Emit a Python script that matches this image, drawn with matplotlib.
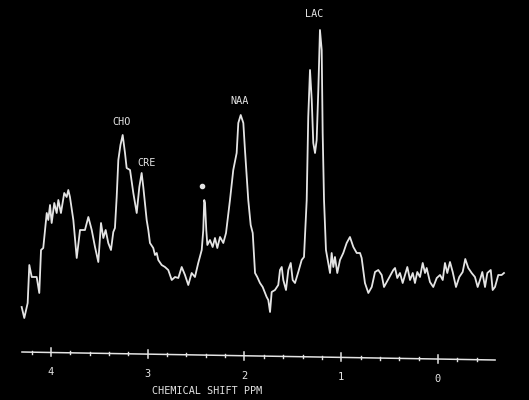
import numpy as np
import matplotlib
matplotlib.use("Agg")
import matplotlib.pyplot as plt

# Spectrum: chemical shift (ppm) and relative intensity
ppm = [4.303, 4.276, 4.241, 4.224, 4.199, 4.148, 4.121, 4.103, 4.080, 4.044,
       4.028, 4.010, 3.993, 3.966, 3.941, 3.924, 3.897, 3.863, 3.838, 3.821,
       3.804, 3.769, 3.734, 3.700, 3.649, 3.614, 3.579, 3.545, 3.511, 3.483,
       3.459, 3.435, 3.408, 3.380, 3.356, 3.339, 3.321, 3.304, 3.282, 3.259,
       3.235, 3.218, 3.183, 3.149, 3.114, 3.087, 3.063, 3.046, 3.011,
       2.994, 2.977, 2.943, 2.925, 2.907, 2.891, 2.856, 2.822, 2.788, 2.752,
       2.718, 2.684, 2.649, 2.615, 2.581, 2.546, 2.512, 2.478, 2.442, 2.426,
       2.416, 2.408, 2.395, 2.384, 2.357, 2.329, 2.305, 2.281, 2.253, 2.219,
       2.191, 2.150, 2.116, 2.081, 2.064, 2.039, 2.012, 1.995, 1.961, 1.936,
       1.915, 1.891, 1.868, 1.840, 1.812, 1.788, 1.771, 1.754, 1.736, 1.719,
       1.685, 1.651, 1.633, 1.615, 1.599, 1.571, 1.547, 1.522, 1.502, 1.478,
       1.444, 1.409, 1.385, 1.357, 1.341, 1.323, 1.305, 1.289, 1.271, 1.254,
       1.237, 1.220, 1.202, 1.192, 1.178, 1.158, 1.134, 1.116, 1.099, 1.082,
       1.065, 1.041, 1.013, 0.979, 0.944, 0.910, 0.875, 0.840,
       0.806, 0.789, 0.755, 0.720, 0.685, 0.651, 0.617, 0.582, 0.558, 0.530,
       0.503, 0.462, 0.444, 0.421, 0.393, 0.365, 0.341, 0.317, 0.289, 0.261,
       0.238, 0.214, 0.186, 0.158, 0.134, 0.117, 0.083, 0.049, 0.013, -0.021,
       -0.049, -0.072, -0.096, -0.124, -0.152, -0.186, -0.220, -0.255, -0.282, -0.313,
       -0.348, -0.382, -0.410, -0.434, -0.458, -0.486, -0.510, -0.545, -0.565, -0.589,
       -0.623, -0.658, -0.682]
intensity = [33, 22, 37, 75, 63, 63, 47, 90, 92, 127,
             120, 135, 117, 137, 127, 140, 127, 147, 143, 150,
             143, 120, 82, 110, 110, 123, 110, 93, 78, 117,
             102, 110, 97, 90, 108, 112, 143, 180, 195, 205,
             187, 172, 170, 147, 127, 153, 167, 153, 120,
             110, 97, 92, 85, 87, 80, 75, 73, 70, 60,
             63, 62, 73, 65, 55, 67, 63, 77, 90, 110,
             140, 137, 110, 95, 100, 93, 102, 92, 103, 97,
             107, 140, 170, 187, 217, 225, 217, 190, 140, 115,
             107, 67, 63, 57, 53, 47, 43, 40, 28, 48,
             50, 55, 70, 73, 60, 50, 70, 77, 60, 57,
             68, 80, 83, 140, 223, 270, 240, 197, 187, 200,
             250, 310, 290, 207, 140, 90, 77, 67, 87, 73,
             83, 67, 80, 87, 97, 103, 93, 87,
             87, 82, 57, 47, 53, 68, 70, 65, 53, 58,
             63, 70, 72, 62, 67, 57, 65, 73, 60, 67,
             57, 68, 63, 77, 67, 72, 58, 53, 62, 65,
             60, 77, 67, 78, 68, 53, 63, 68, 81, 72,
             67, 63, 53, 60, 68, 53, 67, 70, 50, 53,
             65, 65, 67]

peak_labels = ["CHO", "CRE", "NAA", "LAC"]
peak_label_ppm = [3.266, 3.008, 2.047, 1.282]
peak_label_int = [218, 177, 239, 326]

star_ppm = [2.439]
star_int = [154]

major_ticks = [4, 3, 2, 1, 0]
minor_ticks = [4.2, 3.8, 3.6, 3.4, 3.2, 2.8, 2.6, 2.4, 2.2, 1.8, 1.6, 1.4, 1.2,
               0.8, 0.6, 0.4, 0.2, -0.2, -0.4]
tick_labels = ["4", "3", "2", "1", "0"]
axis_title = "CHEMICAL SHIFT PPM"

# axis baseline (slightly tilted, as in the picture)
axis_ppm = [4.30, -0.59]
axis_int = [-12, -20]

fg = "#e4e4e4"
fig = plt.figure(figsize=(5.29, 4.0), dpi=100, facecolor="black")
ax = fig.add_axes([0, 0, 1, 1])
ax.set_facecolor("black")
ax.set_xlim(4.527, -0.9406)
ax.set_ylim(-60, 340)
ax.axis("off")

ax.plot(ppm, intensity, color=fg, lw=1.3, solid_joinstyle="round")

# baseline axis
ax.plot(axis_ppm, axis_int, color=fg, lw=1.1)


def axis_y(p):
    return np.interp(-p, [-axis_ppm[0], -axis_ppm[1]], axis_int)


for p in major_ticks:
    y0 = axis_y(p)
    ax.plot([p, p], [y0 - 4, y0 + 4], color=fg, lw=1.1)
for p in minor_ticks:
    y0 = axis_y(p)
    ax.plot([p, p], [y0 - 1.5, y0 + 1.5], color=fg, lw=1.0)
for p, lab in zip(major_ticks, tick_labels):
    ax.text(p, axis_y(p) - 20, lab, color=fg, ha="center", va="center",
            fontsize=7.5, family="DejaVu Sans Mono")

ax.text(2.388, -51, axis_title, color=fg, ha="center", va="center",
        fontsize=7.3, family="DejaVu Sans Mono")

for lab, p, y in zip(peak_labels, peak_label_ppm, peak_label_int):
    ax.text(p, y, lab, color=fg, ha="center", va="center",
            fontsize=7.3, family="DejaVu Sans Mono")

ax.plot(star_ppm, star_int, "o", color=fg, ms=3)

fig.savefig("out.png", dpi=100, facecolor="black")
